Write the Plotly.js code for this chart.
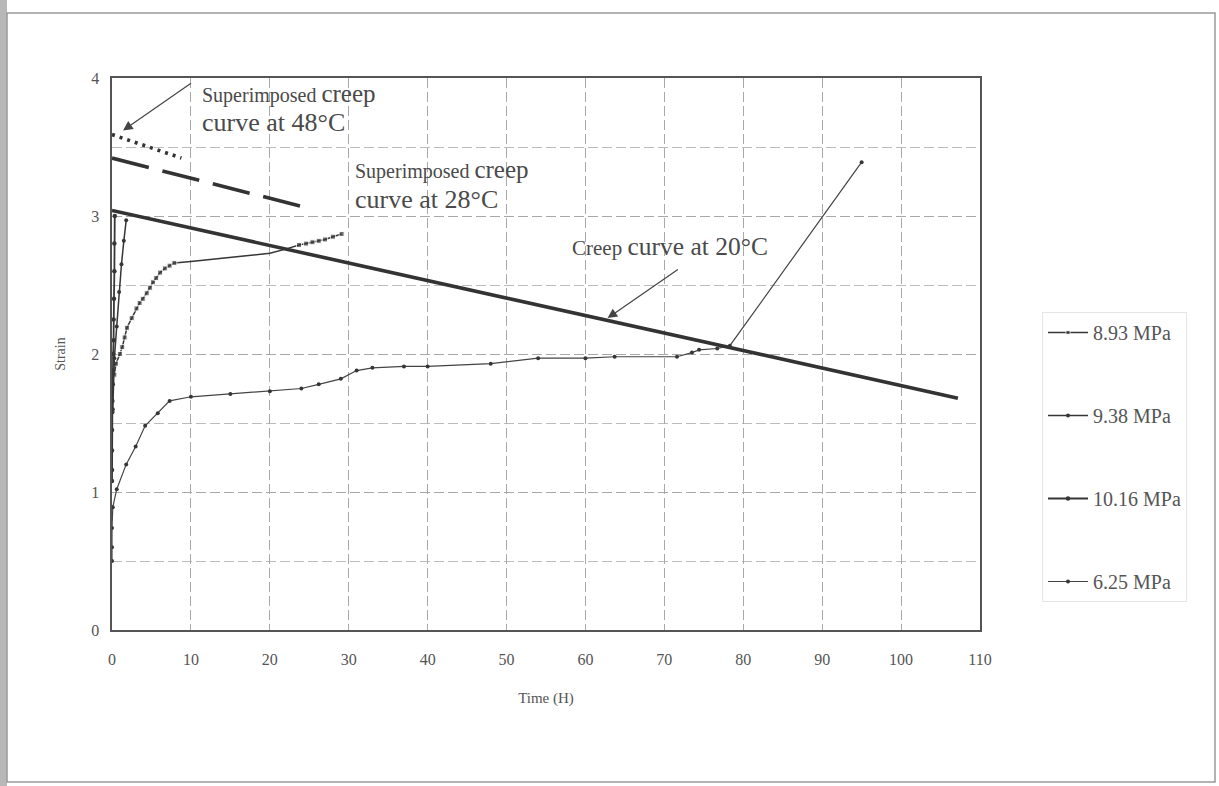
<!DOCTYPE html>
<html><head><meta charset="utf-8">
<script src="https://cdn.plot.ly/plotly-3.0.1.min.js"></script>
<style>html,body{margin:0;padding:0;background:#fff;}#chart{width:1219px;height:786px;}</style>
</head><body><div id="chart"></div>
<script>
// ---- data ----
const seriesNames = ['8.93 MPa', '9.38 MPa', '10.16 MPa', '6.25 MPa'];

const time893 = [0.3,0.5,1,1.3,1.6,1.9,2.5,3.1,3.5,3.9,4.4,4.8,5.2,5.6,6.1,6.7,7.3,7.9,10,13.6,17,20,22,23.7,24.6,25.4,26.2,27,28,29.1];
const strain893 = [1.85,1.93,2.0,2.05,2.12,2.19,2.26,2.33,2.37,2.4,2.44,2.48,2.52,2.55,2.59,2.62,2.64,2.66,2.67,2.69,2.71,2.73,2.76,2.79,2.8,2.81,2.82,2.83,2.85,2.87];

const time938 = [0.1,0.3,0.6,0.9,1.2,1.5,1.8];
const strain938 = [1.6,1.97,2.2,2.45,2.65,2.82,2.97];

const time1016 = [0,0,0,0,0.05,0.05,0.1,0.1,0.15,0.2,0.2,0.25,0.3,0.3,0.35];
const strain1016 = [1.08,1.16,1.3,1.45,1.58,1.66,1.78,1.88,2.0,2.1,2.25,2.4,2.6,2.8,3.0];

const time625 = [0,0,0,0.1,0.6,1.8,3.0,4.2,5.8,7.3,10,15,20,24,26.2,29,31,33,37,40,48,54,60,63.7,71.6,73.5,74.4,76.7,78.3,95];
const strain625 = [0.5,0.6,0.74,0.89,1.02,1.2,1.33,1.48,1.57,1.66,1.69,1.71,1.73,1.75,1.78,1.82,1.88,1.9,1.91,1.91,1.93,1.97,1.97,1.98,1.98,2.01,2.03,2.04,2.06,3.39];

// superimposed creep curves
const time20 = [0, 107.2];  const strain20 = [3.04, 1.68];
const time28 = [0, 24];     const strain28 = [3.42, 3.07];
const time48 = [0, 8.8];    const strain48 = [3.59, 3.42];

const xTicks = [0,10,20,30,40,50,60,70,80,90,100,110];
const yTicks = [0,1,2,3,4];

// ---- styling ----
const serif = 'Liberation Serif, Times New Roman, serif';
const ink = '#363636';

const traces = [
  {x: time893, y: strain893, name: seriesNames[0], legendgroup: 'a', mode: 'lines+markers',
   line: {color: ink, width: 1.5},
   marker: {symbol: 'square', size: time893.map(t => (t > 8 && t < 23) ? 0 : 5), color: ink}},
  {x: time938, y: strain938, name: seriesNames[1], legendgroup: 'b', mode: 'lines+markers',
   line: {color: ink, width: 1.5}, marker: {symbol: 'circle', size: 4, color: ink}},
  {x: time1016, y: strain1016, name: seriesNames[2], legendgroup: 'c', mode: 'lines+markers',
   line: {color: ink, width: 1.8}, marker: {symbol: 'circle', size: 4.5, color: ink}},
  {x: time625, y: strain625, name: seriesNames[3], legendgroup: 'd', mode: 'lines+markers',
   line: {color: '#444', width: 1.2}, marker: {symbol: 'circle', size: 4, color: ink}},
  {x: time20, y: strain20, mode: 'lines', showlegend: false, hoverinfo: 'skip',
   line: {color: '#333', width: 3.6}},
  {x: time28, y: strain28, mode: 'lines', showlegend: false, hoverinfo: 'skip',
   line: {color: '#333', width: 3.6, dash: '38px,14px'}},
  {x: time48, y: strain48, mode: 'lines', showlegend: false, hoverinfo: 'skip',
   line: {color: '#333', width: 3.6, dash: '3px,5px'}}
];

// helpers for decorative frame (pixel -> paper)
const L = 112, T = 78, W = 868, H = 552;
const px = X => (X - L) / W;
const py = Y => 1 - (Y - T) / H;

const annFont = s => ({family: serif, size: s, color: '#4a4a4a'});
const big = s => '<span style="font-size:' + s + 'px">';

const layout = {
  width: 1219, height: 786,
  margin: {l: L, r: 1219 - L - W, t: T, b: 786 - T - H},
  paper_bgcolor: '#fff', plot_bgcolor: '#fff',
  showlegend: true,
  legend: {x: px(1042), xanchor: 'left', y: py(312), yanchor: 'top',
    font: {family: serif, size: 20, color: '#555'},
    bgcolor: 'rgba(0,0,0,0)', bordercolor: '#e6e6e6', borderwidth: 1,
    tracegroupgap: 54, itemwidth: 40},
  xaxis: {range: [0, 110], tickvals: xTicks, ticktext: xTicks.map(String),
    showgrid: true, gridcolor: '#a8a8a8', griddash: '10px,4px', gridwidth: 1,
    zeroline: false, showline: true, linecolor: '#555', linewidth: 1.6, mirror: true,
    ticks: '', ticklabelstandoff: 14,
    tickfont: {family: serif, size: 16, color: '#555'},
    title: {text: 'Time (H)', font: {family: serif, size: 15, color: '#555'}, standoff: 26}},
  yaxis: {range: [0, 4], tickvals: yTicks, ticktext: yTicks.map(String),
    showgrid: true, gridcolor: '#a8a8a8', griddash: '10px,4px', gridwidth: 1,
    minor: {dtick: 0.5, showgrid: true, gridcolor: '#bcbcbc', griddash: '10px,4px', gridwidth: 1},
    zeroline: false, showline: true, linecolor: '#555', linewidth: 1.6, mirror: true,
    ticks: '', ticklabelstandoff: 8,
    tickfont: {family: serif, size: 16, color: '#555'},
    title: {text: 'Strain', font: {family: serif, size: 14, color: '#555'}, standoff: 22}},
  annotations: [
    {x: 11.1, y: 3.89, xanchor: 'left', yanchor: 'middle', text: 'Superimposed ' + big(25) + 'creep</span>', showarrow: false, font: annFont(20)},
    {x: 11.1, y: 3.68, xanchor: 'left', yanchor: 'middle', text: 'curve at 48°C', showarrow: false, font: annFont(26)},
    {x: 1.4, y: 3.62, ax: 10.2, ay: 3.97, axref: 'x', ayref: 'y', text: '', showarrow: true,
     arrowhead: 2, arrowsize: 1.6, arrowwidth: 1.2, arrowcolor: '#444'},
    {x: 30.6, y: 3.34, xanchor: 'left', yanchor: 'middle', text: 'Superimposed ' + big(25) + 'creep</span>', showarrow: false, font: annFont(20)},
    {x: 30.6, y: 3.12, xanchor: 'left', yanchor: 'middle', text: 'curve at 28°C', showarrow: false, font: annFont(26)},
    {x: 70.7, y: 2.78, xanchor: 'center', yanchor: 'middle', text: 'Creep ' + big(25.5) + 'curve at 20°C</span>', showarrow: false, font: annFont(21)},
    {x: 62.8, y: 2.26, ax: 71.9, ay: 2.62, axref: 'x', ayref: 'y', text: '', showarrow: true,
     arrowhead: 2, arrowsize: 1.6, arrowwidth: 1.2, arrowcolor: '#444'}
  ],
  shapes: [
    {type: 'rect', xref: 'paper', yref: 'paper', x0: px(0), x1: px(7), y0: py(786), y1: py(0),
     fillcolor: '#b8b8b8', line: {width: 0}, layer: 'below'},
    {type: 'rect', xref: 'paper', yref: 'paper', x0: px(7), x1: px(1215), y0: py(782), y1: py(13),
     fillcolor: 'rgba(0,0,0,0)', line: {color: '#9a9a9a', width: 1.5}, layer: 'below'}
  ]
};

Plotly.newPlot('chart', traces, layout, {staticPlot: true, displayModeBar: false});
</script>
</body></html>
